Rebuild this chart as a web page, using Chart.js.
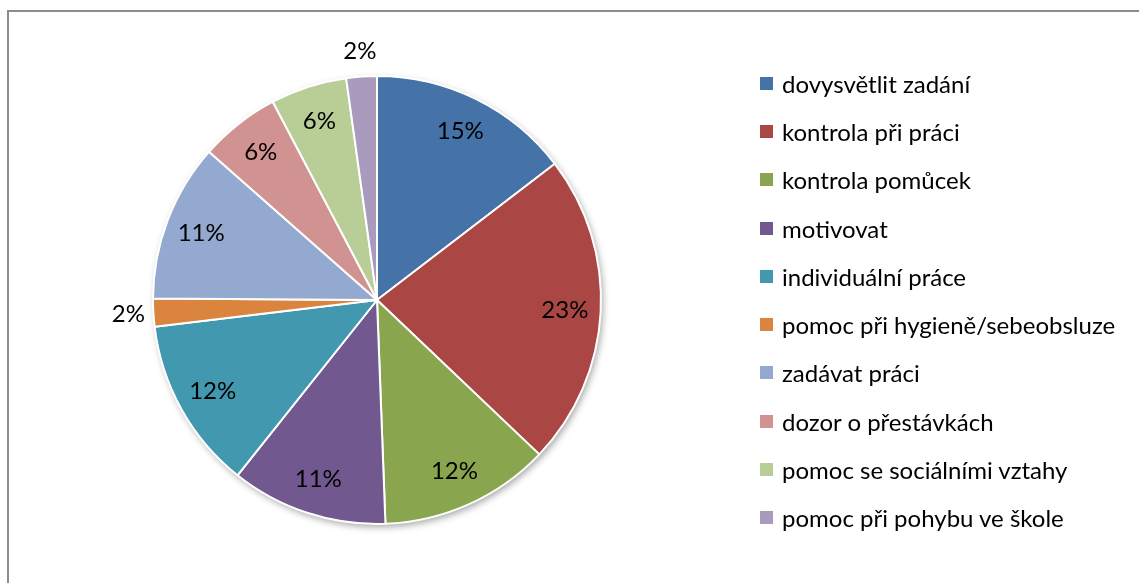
<!DOCTYPE html>
<html>
<head>
<meta charset="utf-8">
<script src="https://cdn.jsdelivr.net/npm/chart.js@4"></script>
<style>
    body { margin: 0; background: #fff; font-family: Lato, "Open Sans", sans-serif; }
    #wrap { position: relative; width: 1139px; height: 583px; overflow: hidden; }
    #frame { position: absolute; left: 7px; top: 10px; width: 1200px; height: 700px; border: 2px solid #8c8c8c; box-sizing: border-box; }
    canvas { position: absolute; left: 0; top: 0; }
    #legend { position: absolute; left: 760px; top: 59px; }
    .item { height: 48.3px; display: flex; align-items: center; font-size: 24px; color: #000; }
    .box { width: 13px; height: 13px; margin-right: 9px; }
</style>
</head>
<body>
<div id="wrap">
    <div id="frame"></div>
    <canvas id="pieChart" width="1139" height="583"></canvas>
    <div id="legend"></div>
</div>
<script>
const categories = [
    "dovysvětlit zadání",
    "kontrola při práci",
    "kontrola pomůcek",
    "motivovat",
    "individuální práce",
    "pomoc při hygieně/sebeobsluze",
    "zadávat práci",
    "dozor o přestávkách",
    "pomoc se sociálními vztahy",
    "pomoc při pohybu ve škole"
];
const shares = [14.6, 22.5, 12.3, 11.3, 12.4, 2.0, 11.4, 5.8, 5.5, 2.2];
const percentLabels = ["15%", "23%", "12%", "11%", "12%", "2%", "11%", "6%", "6%", "2%"];
const colors = ["#4572A7", "#AA4643", "#89A54E", "#71588F", "#4198AF", "#DB843D", "#93A9CF", "#D19392", "#B9CD96", "#A99BBD"];

// soft shadow under the whole pie
const pieShadow = {
    id: "pieShadow",
    beforeDatasetsDraw(chart) {
        const arc = chart.getDatasetMeta(0).data[0];
        if (!arc) return;
        const ctx = chart.ctx;
        ctx.save();
        ctx.shadowColor = "rgba(0,0,0,0.35)";
        ctx.shadowBlur = 7;
        ctx.shadowOffsetX = 2;
        ctx.shadowOffsetY = 3;
        ctx.fillStyle = "#fff";
        ctx.beginPath();
        ctx.arc(arc.x, arc.y, arc.outerRadius, 0, Math.PI * 2);
        ctx.fill();
        ctx.restore();
    }
};

// percentage labels on / next to slices
const sliceLabels = {
    id: "sliceLabels",
    afterDatasetsDraw(chart) {
        const ctx = chart.ctx;
        const meta = chart.getDatasetMeta(0);
        ctx.save();
        ctx.font = "24px Lato, 'Open Sans', sans-serif";
        ctx.fillStyle = "#000";
        ctx.textAlign = "center";
        ctx.textBaseline = "middle";
        meta.data.forEach((arc, i) => {
            const mid = (arc.startAngle + arc.endAngle) / 2;
            const r = shares[i] < 3 ? arc.outerRadius + 25 : arc.outerRadius * 0.84;
            ctx.fillText(percentLabels[i], arc.x + Math.cos(mid) * r, arc.y + Math.sin(mid) * r);
        });
        ctx.restore();
    }
};

const legend = document.getElementById("legend");
categories.forEach((name, i) => {
    const row = document.createElement("div");
    row.className = "item";
    row.innerHTML = `<span class="box" style="background:${colors[i]}"></span><span>${name}</span>`;
    legend.appendChild(row);
});

const ctx = document.getElementById("pieChart").getContext("2d");
new Chart(ctx, {
    type: "pie",
    data: {
        labels: categories,
        datasets: [{
            data: shares,
            backgroundColor: colors,
            borderColor: "#fff",
            borderWidth: 2,
            hoverOffset: 0
        }]
    },
    options: {
        responsive: false,
        animation: false,
        layout: { padding: { left: 152, right: 537, top: 75, bottom: 58 } },
        plugins: {
            legend: { display: false },
            tooltip: { enabled: false }
        }
    },
    plugins: [pieShadow, sliceLabels]
});
</script>
</body>
</html>
